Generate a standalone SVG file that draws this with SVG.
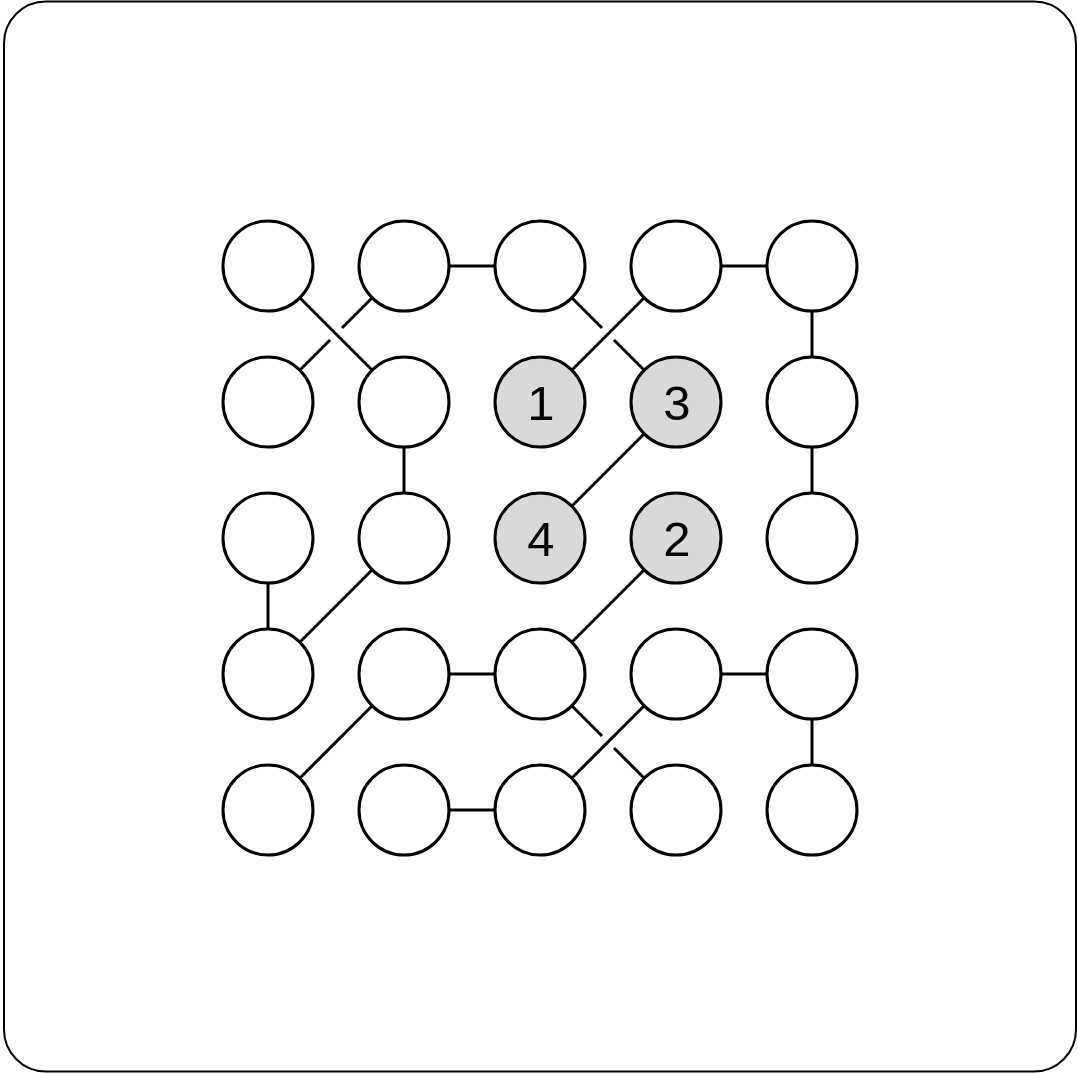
<svg xmlns="http://www.w3.org/2000/svg" width="1078" height="1074" viewBox="0 0 1078 1074">
<style>
.n{fill:#fff;stroke:#000;stroke-width:3}
.s{fill:#d9d9d9}
.e{stroke:#000;stroke-width:3;fill:none}
.t{font-family:"Liberation Sans",Arial,sans-serif;font-size:49px;text-anchor:middle;fill:#000}
</style>
<rect x="4" y="1.5" width="1072" height="1070" rx="42" ry="42" fill="#fff" stroke="#000" stroke-width="2"/>
<g id="connectors" class="e">
<line x1="300" y1="298" x2="372" y2="370"/>
<line x1="372" y1="298" x2="342" y2="328"/>
<line x1="330" y1="340" x2="300" y2="370"/>
<line x1="449" y1="266" x2="495" y2="266"/>
<line x1="572" y1="298" x2="602" y2="328"/>
<line x1="614" y1="340" x2="644" y2="370"/>
<line x1="644" y1="298" x2="572" y2="370"/>
<line x1="721" y1="266" x2="767" y2="266"/>
<line x1="812" y1="311" x2="812" y2="357"/>
<line x1="812" y1="447" x2="812" y2="493"/>
<line x1="404" y1="447" x2="404" y2="493"/>
<line x1="644" y1="434" x2="572" y2="506"/>
<line x1="268" y1="583" x2="268" y2="629"/>
<line x1="372" y1="570" x2="300" y2="642"/>
<line x1="644" y1="570" x2="572" y2="642"/>
<line x1="449" y1="674" x2="495" y2="674"/>
<line x1="372" y1="706" x2="300" y2="778"/>
<line x1="572" y1="706" x2="602" y2="736"/>
<line x1="614" y1="748" x2="644" y2="778"/>
<line x1="644" y1="706" x2="572" y2="778"/>
<line x1="721" y1="674" x2="767" y2="674"/>
<line x1="812" y1="719" x2="812" y2="765"/>
<line x1="449" y1="810" x2="495" y2="810"/>
</g>
<g id="n00"><circle class="n" cx="268" cy="266" r="45"/></g>
<g id="n10"><circle class="n" cx="404" cy="266" r="45"/></g>
<g id="n20"><circle class="n" cx="540" cy="266" r="45"/></g>
<g id="n30"><circle class="n" cx="676" cy="266" r="45"/></g>
<g id="n40"><circle class="n" cx="812" cy="266" r="45"/></g>
<g id="n01"><circle class="n" cx="268" cy="402" r="45"/></g>
<g id="n11"><circle class="n" cx="404" cy="402" r="45"/></g>
<g id="n21"><circle class="n s" cx="540" cy="402" r="45"/><text class="t" x="541" y="420">1</text></g>
<g id="n31"><circle class="n s" cx="676" cy="402" r="45"/><text class="t" x="677" y="420">3</text></g>
<g id="n41"><circle class="n" cx="812" cy="402" r="45"/></g>
<g id="n02"><circle class="n" cx="268" cy="538" r="45"/></g>
<g id="n12"><circle class="n" cx="404" cy="538" r="45"/></g>
<g id="n22"><circle class="n s" cx="540" cy="538" r="45"/><text class="t" x="541" y="556">4</text></g>
<g id="n32"><circle class="n s" cx="676" cy="538" r="45"/><text class="t" x="677" y="556">2</text></g>
<g id="n42"><circle class="n" cx="812" cy="538" r="45"/></g>
<g id="n03"><circle class="n" cx="268" cy="674" r="45"/></g>
<g id="n13"><circle class="n" cx="404" cy="674" r="45"/></g>
<g id="n23"><circle class="n" cx="540" cy="674" r="45"/></g>
<g id="n33"><circle class="n" cx="676" cy="674" r="45"/></g>
<g id="n43"><circle class="n" cx="812" cy="674" r="45"/></g>
<g id="n04"><circle class="n" cx="268" cy="810" r="45"/></g>
<g id="n14"><circle class="n" cx="404" cy="810" r="45"/></g>
<g id="n24"><circle class="n" cx="540" cy="810" r="45"/></g>
<g id="n34"><circle class="n" cx="676" cy="810" r="45"/></g>
<g id="n44"><circle class="n" cx="812" cy="810" r="45"/></g>
</svg>
